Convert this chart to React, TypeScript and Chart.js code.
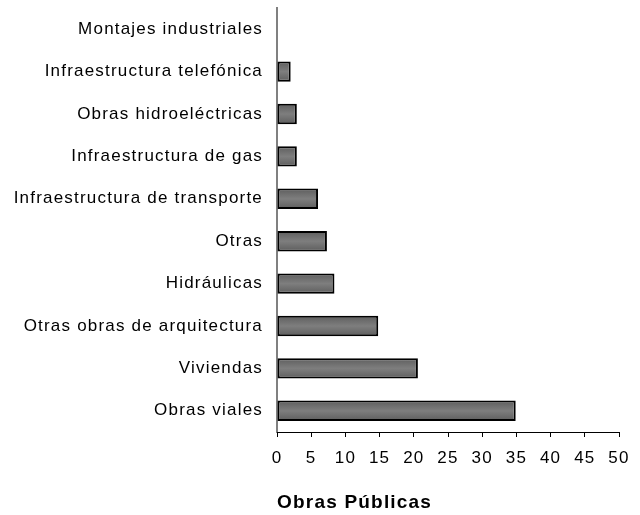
import React, { useEffect, useRef } from "react";
import { Chart, registerables } from "chart.js";

Chart.register(...registerables);

const categories = [
  "Montajes industriales",
  "Infraestructura telefónica",
  "Obras hidroeléctricas",
  "Infraestructura de gas",
  "Infraestructura de transporte",
  "Otras",
  "Hidráulicas",
  "Otras obras de arquitectura",
  "Viviendas",
  "Obras viales",
];
const values = [0, 2.0, 2.9, 2.9, 6.0, 7.3, 8.4, 14.8, 20.6, 34.9];
const xTitle = "Obras Públicas";
const xMin = 0;
const xMax = 50;
const xStep = 5;

const spacingPlugin = {
  id: "spacing",
  beforeDraw(chart: any) {
    (chart.ctx as any).letterSpacing = "1.2px";
  },
};

const FONT = "Liberation Sans, Arial, sans-serif";

function barFill(c: any) {
  try {
    const chart = c.chart;
    const ys = chart.scales && chart.scales.y;
    if (!ys || !chart.chartArea) return "#6e6e6e";
    const mid = ys.getPixelForValue(c.dataIndex);
    const g = chart.ctx.createLinearGradient(0, mid - 10, 0, mid + 10);
    g.addColorStop(0, "#5e5e5e");
    g.addColorStop(0.5, "#7e7e7e");
    g.addColorStop(1, "#5e5e5e");
    return g;
  } catch (e) {
    return "#6e6e6e";
  }
}

export default function App() {
  const ref = useRef<HTMLCanvasElement>(null);
  useEffect(() => {
    document.body.style.margin = "0";
    const chart = new Chart(ref.current!, {
      type: "bar",
      plugins: [spacingPlugin],
      data: {
        labels: categories,
        datasets: [
          {
            data: values,
            backgroundColor: barFill,
            borderColor: "#000000",
            borderWidth: 2,
            borderSkipped: false,
            barPercentage: 0.48,
            categoryPercentage: 1,
          },
        ],
      },
      options: {
        indexAxis: "y",
        animation: false,
        responsive: false,
        maintainAspectRatio: false,
        layout: { padding: { top: 8, right: 21, left: 0, bottom: 0 } },
        plugins: {
          legend: { display: false },
          tooltip: { enabled: false },
        },
        scales: {
          y: {
            afterFit: (s: any) => {
              s.width = 277;
              s.paddingTop = 0;
              s.paddingBottom = 0;
            },
            grid: { display: false },
            border: { color: "#808080", width: 2 },
            ticks: {
              color: "#000",
              padding: 6,
              font: { family: FONT, size: 17 },
            },
          },
          x: {
            min: xMin,
            max: xMax,
            afterFit: (s: any) => {
              s.height = 83;
            },
            grid: {
              drawOnChartArea: false,
              drawTicks: true,
              tickLength: 5,
              color: "#000",
            },
            border: { color: "#000", width: 1 },
            ticks: {
              stepSize: xStep,
              color: "#000",
              padding: 11,
              maxRotation: 0,
              font: { family: FONT, size: 17 },
            },
            title: {
              display: true,
              text: xTitle,
              align: "start",
              color: "#000",
              padding: { top: 4, bottom: 1 },
              font: { family: FONT, size: 19, weight: "bold" },
            },
          },
        },
      },
    });
    return () => chart.destroy();
  }, []);
  return (
    <div style={{ width: 640, height: 515 }}>
      <canvas ref={ref} width={640} height={515} />
    </div>
  );
}
